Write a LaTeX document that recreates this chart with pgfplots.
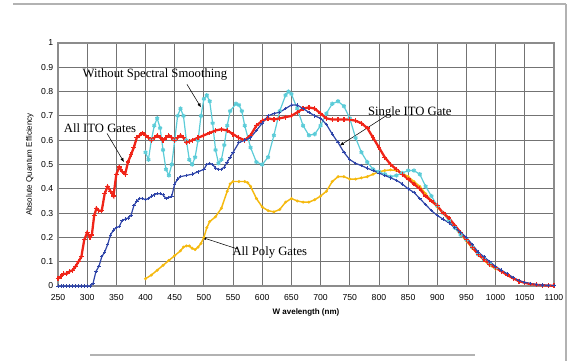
\documentclass[border=0pt]{standalone}
\usepackage{fontspec}
\setmainfont{Liberation Sans}
\newfontfamily\serifann{Liberation Serif}
\usepackage{pgfplots}
\pgfplotsset{compat=1.18}
\usetikzlibrary{arrows.meta}
\definecolor{cred}{HTML}{F02418}
\definecolor{cblue}{HTML}{2E44A8}
\definecolor{ccyan}{HTML}{5CCCD8}
\definecolor{cyel}{HTML}{F5B90F}
\begin{document}
\begin{tikzpicture}
\useasboundingbox (0,0) rectangle (426.75pt,270.75pt);
\draw[gray!60, line width=1.2pt] (9.75pt,267.75pt) -- (424.5pt,267.75pt);
\draw[gray!60, line width=0.8pt] (424.5pt,267.75pt) -- (424.5pt,0pt);
\draw[gray!60, line width=0.8pt] (67.5pt,4.5pt) -- (356pt,4.5pt);
\begin{axis}[
  at={(43.5pt,56.25pt)}, anchor=south west,
  scale only axis, width=372pt, height=182.25pt,
  xmin=250, xmax=1100, ymin=0, ymax=1,
  xtick={250,300,...,1100}, ytick={0,0.1,...,1.01},
  grid=major,
  major grid style={black!55, line width=0.6pt},
  axis line style={black!45, line width=0.8pt},
  major tick length=0pt,
  tick label style={font=\fontsize{6.5}{7.5}\selectfont, /pgf/number format/assume math mode=true},
  xticklabel style={yshift=-2.5pt},
  /pgf/number format/fixed,
  /pgf/number format/set thousands separator={},
  xlabel={\textbf{W avelength (nm)}},
  ylabel={Absolute Quantum Efficiency},
  label style={font=\fontsize{6}{7}\selectfont},
  xlabel style={yshift=0.5pt},
  ylabel style={yshift=-1pt},
  clip=false,
]
% All Poly Gates (yellow)
\addplot[cyel, line width=1.1pt, mark=*, mark size=0.45pt] coordinates {
(400,0.03)(410,0.045)(420,0.065)(430,0.085)(440,0.105)(450,0.125)(460,0.145)(465,0.16)(470,0.165)(475,0.165)(480,0.155)(485,0.15)(490,0.16)(495,0.175)(500,0.2)(505,0.24)(510,0.265)(520,0.285)(530,0.32)(540,0.39)(545,0.42)(550,0.43)(560,0.43)(570,0.43)(575,0.425)(580,0.41)(590,0.36)(600,0.325)(610,0.31)(620,0.305)(630,0.315)(640,0.345)(650,0.36)(660,0.35)(670,0.345)(680,0.345)(690,0.355)(700,0.37)(710,0.39)(720,0.43)(730,0.45)(740,0.45)(750,0.44)(760,0.44)(770,0.445)(780,0.45)(790,0.46)(800,0.47)(810,0.475)(820,0.478)(830,0.475)(840,0.465)(850,0.45)(860,0.43)(870,0.41)(880,0.38)(890,0.35)(900,0.325)(910,0.3)(920,0.27)(930,0.24)(940,0.21)(950,0.185)(960,0.155)(970,0.13)(980,0.105)(990,0.085)(1000,0.07)
};
% Without Spectral Smoothing (cyan)
\addplot[ccyan, line width=0.9pt, mark=asterisk, mark size=1.6pt] coordinates {
(400,0.55)(405,0.52)(410,0.6)(415,0.66)(420,0.69)(425,0.65)(430,0.56)(435,0.48)(440,0.455)(445,0.5)(450,0.6)(455,0.7)(460,0.73)(465,0.7)(470,0.6)(475,0.52)(480,0.5)(485,0.53)(490,0.6)(495,0.7)(500,0.77)(505,0.785)(510,0.76)(515,0.67)(520,0.56)(525,0.505)(530,0.52)(535,0.58)(540,0.66)(545,0.72)(555,0.75)(560,0.745)(565,0.72)(570,0.66)(580,0.57)(590,0.51)(600,0.5)(610,0.53)(620,0.62)(630,0.72)(640,0.785)(645,0.8)(650,0.79)(660,0.73)(670,0.66)(680,0.62)(690,0.625)(700,0.66)(710,0.71)(720,0.75)(730,0.76)(740,0.74)(750,0.69)(760,0.61)(770,0.55)(780,0.51)(790,0.48)(800,0.47)(810,0.46)(820,0.45)(830,0.455)(840,0.465)(850,0.475)(860,0.475)(870,0.46)(880,0.41)(890,0.37)(900,0.33)(910,0.3)(920,0.27)(930,0.24)(940,0.21)(950,0.19)(960,0.16)(970,0.13)(980,0.11)(990,0.09)(1000,0.075)
};
% All ITO Gates (red)
\addplot[cred, line width=1.7pt, mark=+, mark size=1.8pt, mark options={line width=0.9pt}] coordinates {
(250,0.03)(255,0.04)(260,0.05)(265,0.05)(270,0.06)(275,0.065)(280,0.08)(285,0.1)(290,0.12)(295,0.19)(300,0.22)(305,0.2)(308,0.21)(312,0.29)(316,0.32)(320,0.31)(325,0.31)(330,0.38)(335,0.41)(340,0.39)(345,0.37)(350,0.46)(355,0.49)(360,0.47)(365,0.46)(370,0.51)(375,0.54)(380,0.57)(385,0.61)(390,0.62)(395,0.63)(400,0.62)(405,0.61)(410,0.6)(415,0.61)(420,0.62)(425,0.61)(430,0.6)(435,0.61)(440,0.62)(445,0.61)(450,0.6)(455,0.61)(460,0.62)(465,0.61)(470,0.59)(475,0.595)(480,0.6)(490,0.61)(500,0.62)(510,0.63)(520,0.64)(530,0.645)(540,0.64)(550,0.625)(560,0.61)(570,0.6)(580,0.62)(590,0.66)(600,0.68)(610,0.69)(620,0.685)(630,0.69)(640,0.695)(650,0.7)(660,0.715)(670,0.73)(680,0.735)(690,0.73)(700,0.71)(710,0.69)(720,0.685)(730,0.685)(740,0.685)(750,0.685)(760,0.68)(770,0.67)(780,0.65)(790,0.61)(800,0.57)(810,0.53)(820,0.5)(830,0.48)(840,0.46)(850,0.44)(860,0.42)(870,0.4)(880,0.37)(890,0.35)(900,0.33)(910,0.3)(920,0.28)(930,0.25)(940,0.22)(950,0.19)(960,0.16)(970,0.13)(980,0.11)(990,0.09)(1000,0.075)(1010,0.06)(1020,0.045)(1030,0.032)(1040,0.02)(1050,0.013)(1060,0.008)(1070,0.005)(1080,0.003)(1090,0.002)(1100,0.001)
};
% Single ITO Gate (blue)
\addplot[cblue, line width=0.9pt, mark=+, mark size=1.3pt, mark options={line width=0.6pt}] coordinates {
(250,0)(255,0)(260,0)(265,0)(270,0)(275,0)(280,0)(285,0)(290,0)(295,0)(300,0)(305,0)(310,0.01)(315,0.06)(320,0.08)(325,0.12)(330,0.14)(335,0.17)(340,0.21)(345,0.23)(350,0.24)(355,0.245)(360,0.27)(365,0.275)(370,0.28)(375,0.29)(380,0.33)(385,0.35)(390,0.36)(395,0.36)(400,0.355)(405,0.36)(410,0.37)(415,0.375)(420,0.38)(425,0.38)(430,0.375)(435,0.36)(440,0.365)(445,0.37)(450,0.42)(455,0.44)(460,0.45)(470,0.455)(480,0.46)(490,0.47)(500,0.48)(505,0.5)(510,0.505)(515,0.5)(520,0.485)(525,0.48)(530,0.48)(535,0.49)(540,0.51)(545,0.53)(550,0.55)(560,0.59)(570,0.6)(580,0.61)(590,0.64)(600,0.67)(610,0.7)(620,0.71)(630,0.715)(640,0.73)(650,0.745)(660,0.745)(670,0.73)(680,0.715)(690,0.7)(700,0.69)(710,0.665)(720,0.625)(730,0.59)(740,0.55)(750,0.52)(760,0.505)(770,0.495)(780,0.485)(790,0.475)(800,0.465)(810,0.455)(820,0.445)(830,0.435)(840,0.42)(850,0.4)(860,0.385)(870,0.36)(880,0.335)(890,0.31)(900,0.29)(910,0.275)(920,0.26)(930,0.24)(940,0.22)(950,0.2)(960,0.17)(970,0.14)(980,0.12)(990,0.1)(1000,0.08)(1010,0.065)(1020,0.05)(1030,0.035)(1040,0.022)(1050,0.015)(1060,0.01)(1070,0.006)(1080,0.004)(1090,0.003)(1100,0.002)
};
% annotations
\node[font=\serifann\fontsize{9.5}{11}\selectfont] at (axis cs:416,0.872) {Without Spectral Smoothing};
\draw[-{Latex[length=3pt,width=2.5pt]}, line width=0.4pt] (axis cs:471,0.83) -- (axis cs:495,0.735);
\node[font=\serifann\fontsize{9.5}{11}\selectfont] at (axis cs:322,0.65) {All ITO Gates};
\draw[-{Latex[length=3pt,width=2.5pt]}, line width=0.4pt] (axis cs:334,0.628) -- (axis cs:363,0.51);
\node[font=\serifann\fontsize{9.5}{11}\selectfont] at (axis cs:853,0.716) {Single ITO Gate};
\draw[-{Latex[length=3pt,width=2.5pt]}, line width=0.4pt] (axis cs:812,0.70) -- (axis cs:733,0.578);
\node[font=\serifann\fontsize{9.5}{11}\selectfont] at (axis cs:613,0.14) {All Poly Gates};
\draw[-{Latex[length=3pt,width=2.5pt]}, line width=0.4pt] (axis cs:558,0.152) -- (axis cs:497,0.2);
\end{axis}
\end{tikzpicture}
\end{document}
